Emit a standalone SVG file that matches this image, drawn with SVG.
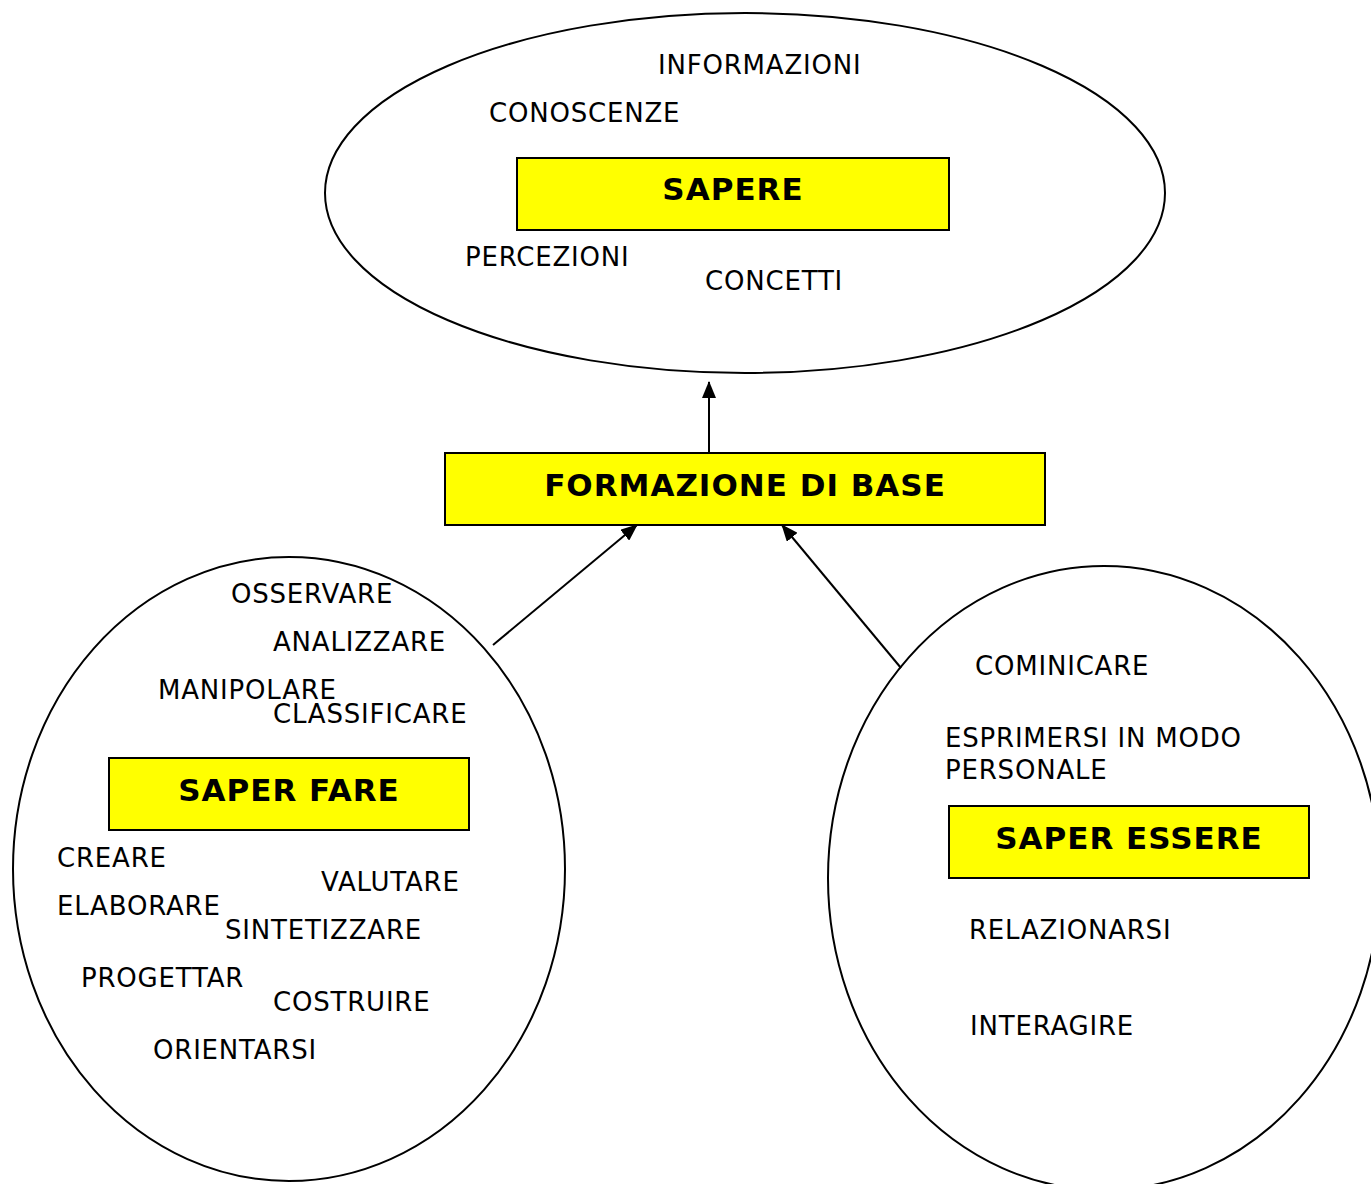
<svg xmlns="http://www.w3.org/2000/svg" width="1371" height="1184" viewBox="0 0 1371 1184">
<style>
.bg{fill:#ffffff}
.ell{fill:#ffffff;stroke:#000000;stroke-width:2}
.box{fill:#ffff00;stroke:#000000;stroke-width:2}
.t{font-family:"DejaVu Sans",Verdana,sans-serif;font-size:26px;letter-spacing:0.8px;fill:#000000}
.b{font-family:"DejaVu Sans",Verdana,sans-serif;font-size:31px;font-weight:bold;letter-spacing:1px;fill:#000000;text-anchor:middle}
.edge{stroke:#000000;stroke-width:2;fill:none;marker-end:url(#ah)}
</style>
<defs>
<marker id="ah" markerWidth="17" markerHeight="14" refX="16" refY="7" orient="auto" markerUnits="userSpaceOnUse">
<path d="M0,0 L17,7 L0,14 Z" fill="#000000"/>
</marker>
</defs>
<rect class="bg" x="0" y="0" width="1371" height="1184"/>
<g id="sapere">
<ellipse class="ell" cx="745" cy="193" rx="420" ry="180"/>
<rect class="box" x="517" y="158" width="432" height="72"/>
<text class="b" x="733" y="200">SAPERE</text>
<text class="t" x="658" y="74">INFORMAZIONI</text>
<text class="t" x="489" y="122">CONOSCENZE</text>
<text class="t" x="465" y="266">PERCEZIONI</text>
<text class="t" x="705" y="290">CONCETTI</text>
</g>
<g id="formazione">
<rect class="box" x="445" y="453" width="600" height="72"/>
<text class="b" x="745" y="496">FORMAZIONE DI BASE</text>
</g>
<g id="saper-fare">
<ellipse class="ell" cx="289" cy="869" rx="276" ry="312"/>
<rect class="box" x="109" y="758" width="360" height="72"/>
<text class="b" x="289" y="801">SAPER FARE</text>
<text class="t" x="231" y="603">OSSERVARE</text>
<text class="t" x="273" y="651">ANALIZZARE</text>
<text class="t" x="158" y="699">MANIPOLARE</text>
<text class="t" x="273" y="723">CLASSIFICARE</text>
<text class="t" x="57" y="867">CREARE</text>
<text class="t" x="321" y="891">VALUTARE</text>
<text class="t" x="57" y="915">ELABORARE</text>
<text class="t" x="225" y="939">SINTETIZZARE</text>
<text class="t" x="81" y="987">PROGETTAR</text>
<text class="t" x="273" y="1011">COSTRUIRE</text>
<text class="t" x="153" y="1059">ORIENTARSI</text>
</g>
<g id="saper-essere">
<ellipse class="ell" cx="1104" cy="878" rx="276" ry="312"/>
<rect class="box" x="949" y="806" width="360" height="72"/>
<text class="b" x="1129" y="849">SAPER ESSERE</text>
<text class="t" x="975" y="675">COMINICARE</text>
<text class="t" x="945" y="747">ESPRIMERSI IN MODO</text>
<text class="t" x="945" y="779">PERSONALE</text>
<text class="t" x="969" y="939">RELAZIONARSI</text>
<text class="t" x="970" y="1035">INTERAGIRE</text>
</g>
<g id="connectors">
<line class="edge" x1="709" y1="453" x2="709" y2="382"/>
<line class="edge" x1="493" y1="645" x2="637" y2="525"/>
<line class="edge" x1="901" y1="668" x2="782" y2="525"/>
</g>
</svg>
